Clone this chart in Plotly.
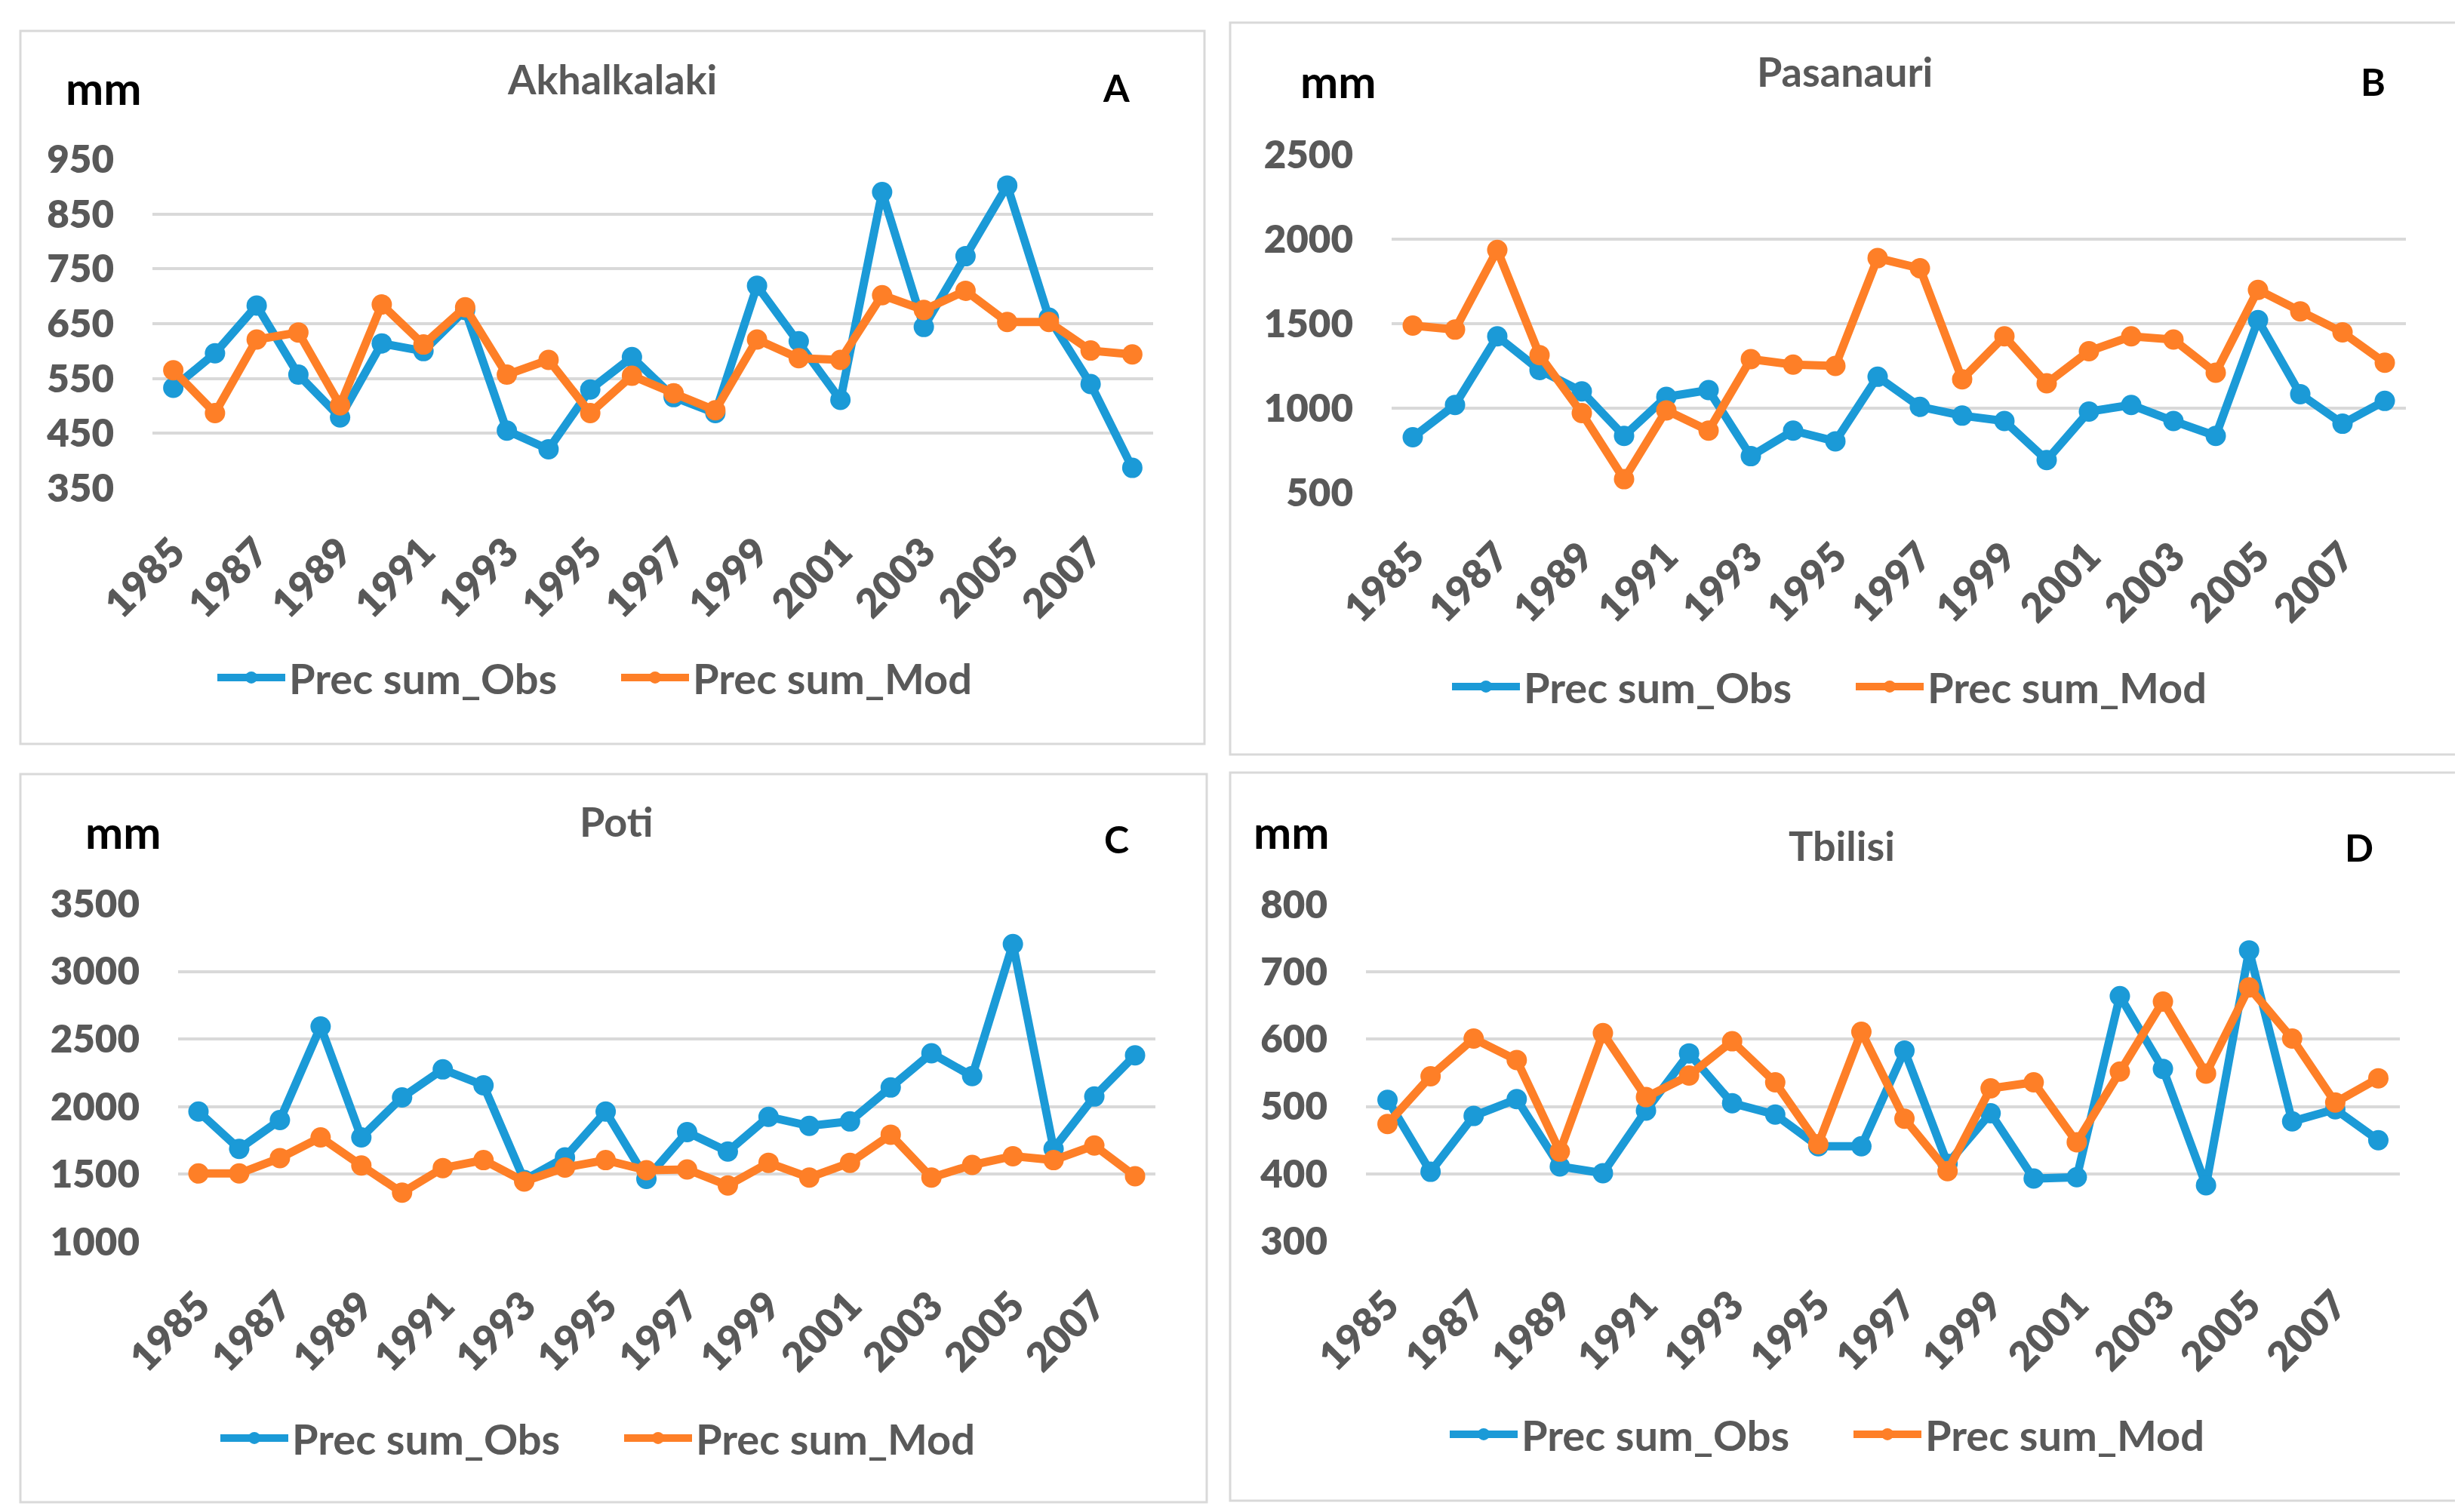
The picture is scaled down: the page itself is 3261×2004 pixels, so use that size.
import plotly.graph_objects as go

years = list(range(1985, 2009))
tick_years = list(range(1985, 2008, 2))
tick_text = [str(y) for y in tick_years]

# Akhalkalaki (A)
akh_obs = [533, 596, 683, 557, 479, 614, 600, 675, 455, 421, 530, 589,
           516, 487, 719, 618, 511, 890, 644, 773, 902, 661, 540, 387]
akh_mod = [565, 487, 621, 634, 501, 685, 612, 680, 557, 584, 487, 555,
           523, 492, 621, 587, 584, 702, 675, 710, 653, 653, 601, 594]

# Pasanauri (B)
pas_obs = [828, 1019, 1425, 1226, 1099, 836, 1067, 1107, 716, 867, 804, 1186,
           1008, 956, 924, 693, 980, 1019, 924, 836, 1521, 1083, 908, 1043]
pas_mod = [1489, 1465, 1936, 1314, 971, 580, 987, 867, 1290, 1258, 1250, 1888,
           1828, 1171, 1425, 1147, 1337, 1425, 1406, 1210, 1700, 1573, 1449, 1269]

# Poti (C)
pot_obs = [1964, 1688, 1901, 2593, 1773, 2069, 2276, 2158, 1457, 1625, 1964, 1466,
           1812, 1668, 1925, 1858, 1891, 2142, 2395, 2226, 3203, 1688, 2075, 2380]
pot_mod = [1506, 1506, 1620, 1773, 1565, 1364, 1546, 1605, 1447, 1550, 1605, 1530,
           1536, 1417, 1585, 1476, 1585, 1793, 1476, 1569, 1634, 1605, 1713, 1486]

# Tbilisi (D)
tbi_obs = [510, 403, 486, 511, 411, 401, 494, 579, 505, 488, 441, 441,
           583, 415, 490, 393, 395, 664, 556, 383, 732, 478, 496, 450]
tbi_mod = [474, 545, 601, 569, 433, 609, 514, 546, 597, 536, 444, 611,
           482, 404, 527, 536, 447, 552, 656, 549, 677, 601, 506, 542]

series_names = ["Prec sum_Obs", "Prec sum_Mod"]
station_names = ["Akhalkalaki", "Pasanauri", "Poti", "Tbilisi"]
panel_letters = ["A", "B", "C", "D"]
y_ranges = [(350, 950, 100), (500, 2500, 500), (1000, 3500, 500), (300, 800, 100)]

W, H = 3261, 2004
BLUE = "#1B9AD7"
ORANGE = "#FE7F27"
GRAY_TXT = "#595959"
GRID = "#D9D9D9"
FONT = "Lato"

# pixel layout of each panel
plot_boxes = [  # x0, x1, ytop, ybottom
    (194, 1520, 203, 639),
    (1836, 3180, 197, 645),
    (228, 1523, 1190, 1638),
    (1802, 3172, 1191, 1637),
]
frames = [(19, 1588, 33, 978), (1622, 3250, 22, 992),
          (19, 1591, 1018, 1983), (1622, 3250, 1016, 1981)]
title_pos = [(803, 96), (2436, 86), (808, 1080), (2432, 1112)]
mm_pos = [(129, 108), (1766, 99), (155, 1094), (1703, 1094)]
letter_pos = [(1471, 108), (3136, 100), (1471, 1104), (3118, 1115)]
legend_pos = [(810, 890), (2446, 902), (814, 1898), (2443, 1893)]

data = [(akh_obs, akh_mod), (pas_obs, pas_mod), (pot_obs, pot_mod), (tbi_obs, tbi_mod)]

fig = go.Figure()
layout = dict(
    width=W, height=H, margin=dict(l=0, r=0, t=0, b=0, pad=0, autoexpand=False),
    autosize=False,
    paper_bgcolor="white", plot_bgcolor="white", showlegend=True,
    font=dict(family=FONT, color=GRAY_TXT, size=50, weight="bold"),
)
shapes, annotations = [], []

def px(x):
    return x / W

def py(y):
    return 1 - y / H

for i in range(4):
    suffix = "" if i == 0 else str(i + 1)
    legend_key = "legend" if i == 0 else f"legend{i + 1}"
    obs, mod = data[i]
    for vals, name, color in ((obs, series_names[0], BLUE), (mod, series_names[1], ORANGE)):
        fig.add_trace(go.Scatter(
            x=years, y=vals, name=name, mode="lines+markers",
            line=dict(color=color, width=11),
            marker=dict(color=color, size=27),
            cliponaxis=False,
            xaxis="x" + suffix, yaxis="y" + suffix, legend=legend_key,
        ))
    x0, x1, yt, yb = plot_boxes[i]
    lo, hi, step = y_ranges[i]
    layout["xaxis" + suffix] = dict(
        domain=[px(x0), px(x1)], anchor="y" + suffix, automargin=False,
        range=[1984.5, 2008.5], tickmode="array", tickvals=tick_years, ticktext=tick_text,
        tickangle=-45, showgrid=False, zeroline=False, showline=False,
        ticks="", ticklabelstandoff=42,
        tickfont=dict(family=FONT, size=53, color=GRAY_TXT, weight=800),
    )
    layout["yaxis" + suffix] = dict(
        domain=[py(yb), py(yt)], anchor="x" + suffix, automargin=False,
        range=[lo, hi], tickmode="linear", tick0=lo, dtick=step,
        showgrid=True, gridcolor=GRID, gridwidth=4, zeroline=False, showline=False,
        ticks="", ticklabelstandoff=50,
        tickfont=dict(family=FONT, size=51, color=GRAY_TXT, weight=800),
    )
    lx, ly = legend_pos[i]
    layout[legend_key] = dict(
        x=px(lx), y=py(ly), xanchor="center", yanchor="middle",
        orientation="h", itemwidth=90, entrywidth=430, bgcolor="rgba(0,0,0,0)",
        font=dict(family=FONT, size=56, color=GRAY_TXT, weight="bold"),
        itemsizing="trace", tracegroupgap=0,
    )
    fx0, fx1, fy0, fy1 = frames[i]
    shapes.append(dict(type="rect", xref="paper", yref="paper",
                       x0=px(fx0), x1=px(fx1), y0=py(fy1), y1=py(fy0),
                       line=dict(color=GRID, width=3), fillcolor="rgba(0,0,0,0)", layer="below"))
    tx, ty = title_pos[i]
    annotations.append(dict(text=station_names[i], x=px(tx), y=py(ty), xref="paper", yref="paper",
                            showarrow=False, xanchor="center", yanchor="middle",
                            font=dict(family=FONT, size=54, color=GRAY_TXT, weight="bold")))
    mx, my = mm_pos[i]
    annotations.append(dict(text="mm", x=px(mx), y=py(my), xref="paper", yref="paper",
                            showarrow=False, xanchor="center", yanchor="middle",
                            font=dict(family=FONT, size=60, color="black", weight="bold")))
    lx2, ly2 = letter_pos[i]
    annotations.append(dict(text=panel_letters[i], x=px(lx2), y=py(ly2), xref="paper", yref="paper",
                            showarrow=False, xanchor="center", yanchor="middle",
                            font=dict(family=FONT, size=50, color="black", weight="bold")))

layout["shapes"] = shapes
layout["annotations"] = annotations
fig.update_layout(**layout)
fig.write_html("out.html")
